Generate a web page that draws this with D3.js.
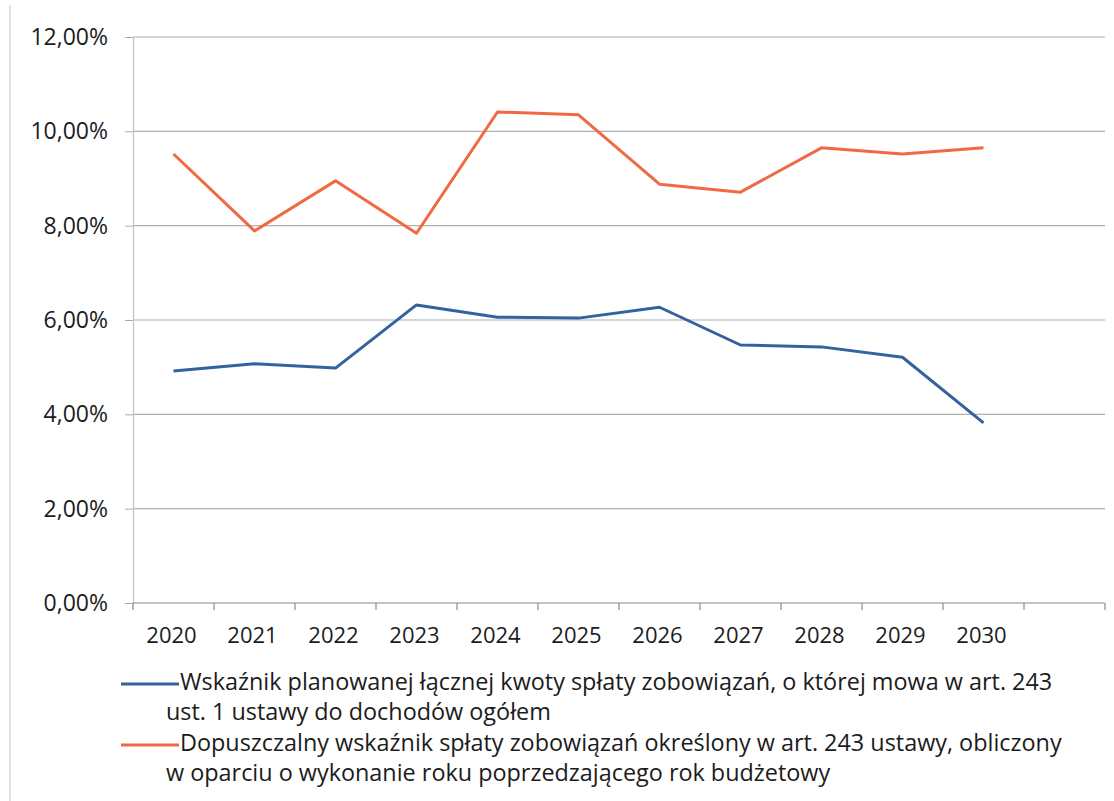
<!DOCTYPE html>
<html><head><meta charset="utf-8">
<script src="https://cdn.jsdelivr.net/npm/d3@7"></script>
<style>
html,body{margin:0;padding:0;background:#fff;}
svg{display:block;}
text{font-family:"Open Sans","Noto Sans",sans-serif;fill:#1c1c1c;}
</style></head>
<body>
<svg id="chart" width="1114" height="801"></svg>
<script>
const years = ["2020","2021","2022","2023","2024","2025","2026","2027","2028","2029","2030",""];
const blueValues = [4.92,5.07,4.98,6.32,6.06,6.04,6.27,5.47,5.43,5.21,3.82];
const redValues  = [9.52,7.89,8.95,7.84,10.41,10.35,8.88,8.71,9.65,9.52,9.65];
const yTicks = [0,2,4,6,8,10,12];
const seriesNames = [
  ["Wskaźnik planowanej łącznej kwoty spłaty zobowiązań, o której mowa w art. 243","ust. 1 ustawy do dochodów ogółem"],
  ["Dopuszczalny wskaźnik spłaty zobowiązań określony w art. 243 ustawy, obliczony","w oparciu o wykonanie roku poprzedzającego rok budżetowy"]
];
const colors = ["#33629f","#ef6a44"];

(function(){
const svg = d3.select("#chart");
const mLeft = 133, mRight = 1105, mTop = 37, mBottom = 603;

// faint page border
svg.append("line").attr("x1",10).attr("x2",10).attr("y1",5).attr("y2",801)
  .attr("stroke","#d8d8d8").attr("stroke-width",1.5);

const x = d3.scaleBand().domain(years).range([mLeft,mRight]).padding(0);
const y = d3.scaleLinear().domain([0,12]).range([mBottom,mTop]);

// gridlines
svg.append("g").selectAll("line").data(yTicks.filter(d=>d>0)).join("line")
  .attr("x1",mLeft).attr("x2",mRight)
  .attr("y1",d=>y(d)).attr("y2",d=>y(d))
  .attr("stroke","#b0b0b0").attr("stroke-width",1.2);

// y axis
const yAxis = d3.axisLeft(y).tickValues(yTicks).tickSize(8).tickPadding(17)
  .tickFormat(d=>d3.format(".2f")(d).replace(".",",")+"%");
const gy = svg.append("g").attr("transform",`translate(${mLeft},0)`).call(yAxis);
gy.select(".domain").attr("stroke","#c4c4c4").attr("stroke-width",1.2);
gy.selectAll(".tick line").attr("stroke","#aaa");
gy.selectAll(".tick text").attr("font-size",23).attr("fill","#1c1c1c")
  .style("font-family",'"Open Sans","Noto Sans",sans-serif');

// x axis with ticks between categories
const gx = svg.append("g").attr("transform",`translate(0,${mBottom})`);
gx.append("line").attr("x1",mLeft).attr("x2",mRight).attr("y1",0).attr("y2",0)
  .attr("stroke","#8a8a8a").attr("stroke-width",1.2);
const bounds = years.map(d=>x(d)).concat([mRight]);
gx.selectAll("line.tk").data(bounds).join("line").attr("class","tk")
  .attr("x1",d=>d).attr("x2",d=>d).attr("y1",0).attr("y2",7)
  .attr("stroke","#8a8a8a").attr("stroke-width",1.2);
gx.selectAll("text").data(years.filter(d=>d!=="")).join("text")
  .attr("x",d=>x(d)+x.bandwidth()/2-2).attr("y",34)
  .attr("dominant-baseline","middle")
  .attr("text-anchor","middle").attr("font-size",22).text(d=>d);

// lines
const line = d3.line().x((d,i)=>x(years[i])+x.bandwidth()/2).y(d=>y(d));
[blueValues, redValues].forEach((vals,k)=>{
  svg.append("path").datum(vals).attr("d",line)
    .attr("fill","none").attr("stroke",colors[k]).attr("stroke-width",3)
    .attr("stroke-linejoin","round");
});

// legend
const legY = [684, 745];
seriesNames.forEach((lines,k)=>{
  svg.append("line").attr("x1",121).attr("x2",179)
    .attr("y1",legY[k]).attr("y2",legY[k])
    .attr("stroke",colors[k]).attr("stroke-width",3);
  lines.forEach((t,j)=>{
    svg.append("text").attr("x",j===0?180:166).attr("y",legY[k]+j*30)
      .attr("dominant-baseline","middle").attr("font-size",23.4).text(t);
  });
});
})();
</script>
</body></html>
